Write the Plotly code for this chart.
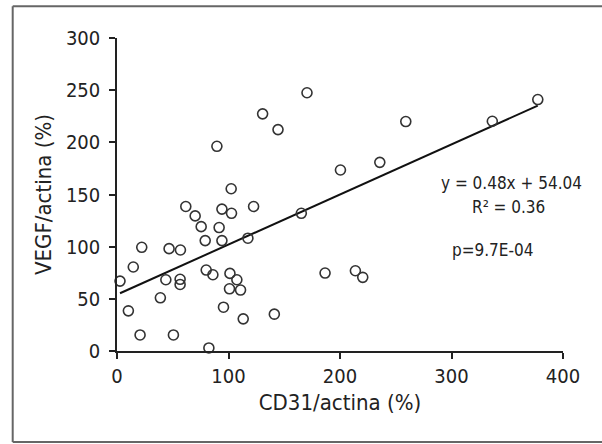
import plotly.graph_objects as go

cd31 = [102.4, 61.7, 94.1, 102.7, 122.5, 70.1, 165.3, 75.5, 91.6, 79.1,
        94.1, 117.4, 22.2, 46.7, 56.9, 14.6, 43.8, 56.6, 56.6, 80.0,
        86.0, 101.3, 107.5, 100.9, 110.8, 186.6, 38.9, 95.5, 113.2, 141.1,
        20.7, 50.6, 82.4, 170.4, 130.6, 144.4, 89.6, 259.0, 377.4, 336.6,
        200.4, 235.7, 213.8, 220.4, 2.7, 10.2]
vegf = [155.5, 138.5, 136.0, 132.0, 138.5, 129.5, 132.0, 119.2, 118.3, 105.8,
        105.8, 108.1, 99.4, 98.1, 96.8, 80.5, 68.3, 68.7, 63.8, 77.6,
        73.1, 74.4, 68.3, 59.6, 58.4, 74.7, 51.0, 42.0, 30.8, 35.3,
        15.4, 15.4, 2.9, 247.5, 227.3, 212.2, 196.2, 219.9, 241.0, 220.2,
        173.5, 180.8, 76.9, 70.6, 67.0, 38.5]

slope = 0.48
intercept = 54.04
eq_text = "y = 0.48x + 54.04"
r2_text = "R² = 0.36"
p_text = "p=9.7E-04"

x_ticks = [0, 100, 200, 300, 400]
y_ticks = [0, 50, 100, 150, 200, 250, 300]

FONT = "DejaVu Sans Condensed, Liberation Sans, sans-serif"

xmin, xmax = min(cd31), max(cd31)
trend_x = [xmin, xmax]
trend_y = [slope * v + intercept for v in trend_x]

fig = go.Figure()
fig.add_trace(go.Scatter(
    x=trend_x, y=trend_y, mode="lines",
    line=dict(color="#111111", width=2), hoverinfo="skip", showlegend=False))
fig.add_trace(go.Scatter(
    x=cd31, y=vegf, mode="markers",
    marker=dict(symbol="circle-open", size=10, color="#333333",
                line=dict(color="#333333", width=1.6)),
    showlegend=False, cliponaxis=False))

axis_common = dict(
    showgrid=False, zeroline=False, showline=True, linecolor="#222222",
    linewidth=1.5, ticks="outside", ticklen=6, tickcolor="#222222",
    tickwidth=1.5, tickfont=dict(family=FONT, size=20, color="#222222"),
)

fig.update_xaxes(range=[0, 400], tickvals=x_ticks, **axis_common,
                 title=dict(text="CD31/actina (%)",
                            font=dict(family=FONT, size=22, color="#222222"),
                            standoff=8))
fig.update_yaxes(range=[0, 300], tickvals=y_ticks, **axis_common,
                 ticklabelstandoff=5,
                 title=dict(text="VEGF/actina (%)",
                            font=dict(family=FONT, size=22, color="#222222"),
                            standoff=8))


def px_to_paper_x(px):
    return (px - 117) / 446.0


def px_to_paper_y(py):
    return (350.7 - py) / 312.4


ann_font = dict(family=FONT, size=17, color="#222222")
fig.add_annotation(x=px_to_paper_x(511), y=px_to_paper_y(183), xref="paper", yref="paper",
                   text=eq_text, showarrow=False, font=ann_font, xanchor="center", yanchor="middle")
fig.add_annotation(x=px_to_paper_x(508), y=px_to_paper_y(206.5), xref="paper", yref="paper",
                   text=r2_text, showarrow=False, font=ann_font, xanchor="center", yanchor="middle")
fig.add_annotation(x=px_to_paper_x(492), y=px_to_paper_y(250), xref="paper", yref="paper",
                   text=p_text, showarrow=False, font=ann_font, xanchor="center", yanchor="middle")

# outer frame (left, top, bottom edges; right edge lies beyond the image)
bx0, bx1 = px_to_paper_x(12.7), px_to_paper_x(602)
by0, by1 = px_to_paper_y(441.5), px_to_paper_y(6.7)
frame = dict(color="#666666", width=2)
for (a, b, c, d) in [(bx0, by0, bx0, by1), (bx0, by1, bx1, by1), (bx0, by0, bx1, by0)]:
    fig.add_shape(type="line", xref="paper", yref="paper", x0=a, y0=b, x1=c, y1=d,
                  line=frame, layer="below")

fig.update_layout(
    width=602, height=444,
    margin=dict(l=117, r=39, t=38, b=93),
    paper_bgcolor="white", plot_bgcolor="white",
    font=dict(family=FONT),
)

fig.write_html("out.html", config={"displayModeBar": False},
               post_script="document.documentElement.style.overflow='hidden';document.body.style.margin='0';document.body.style.overflow='hidden';")
